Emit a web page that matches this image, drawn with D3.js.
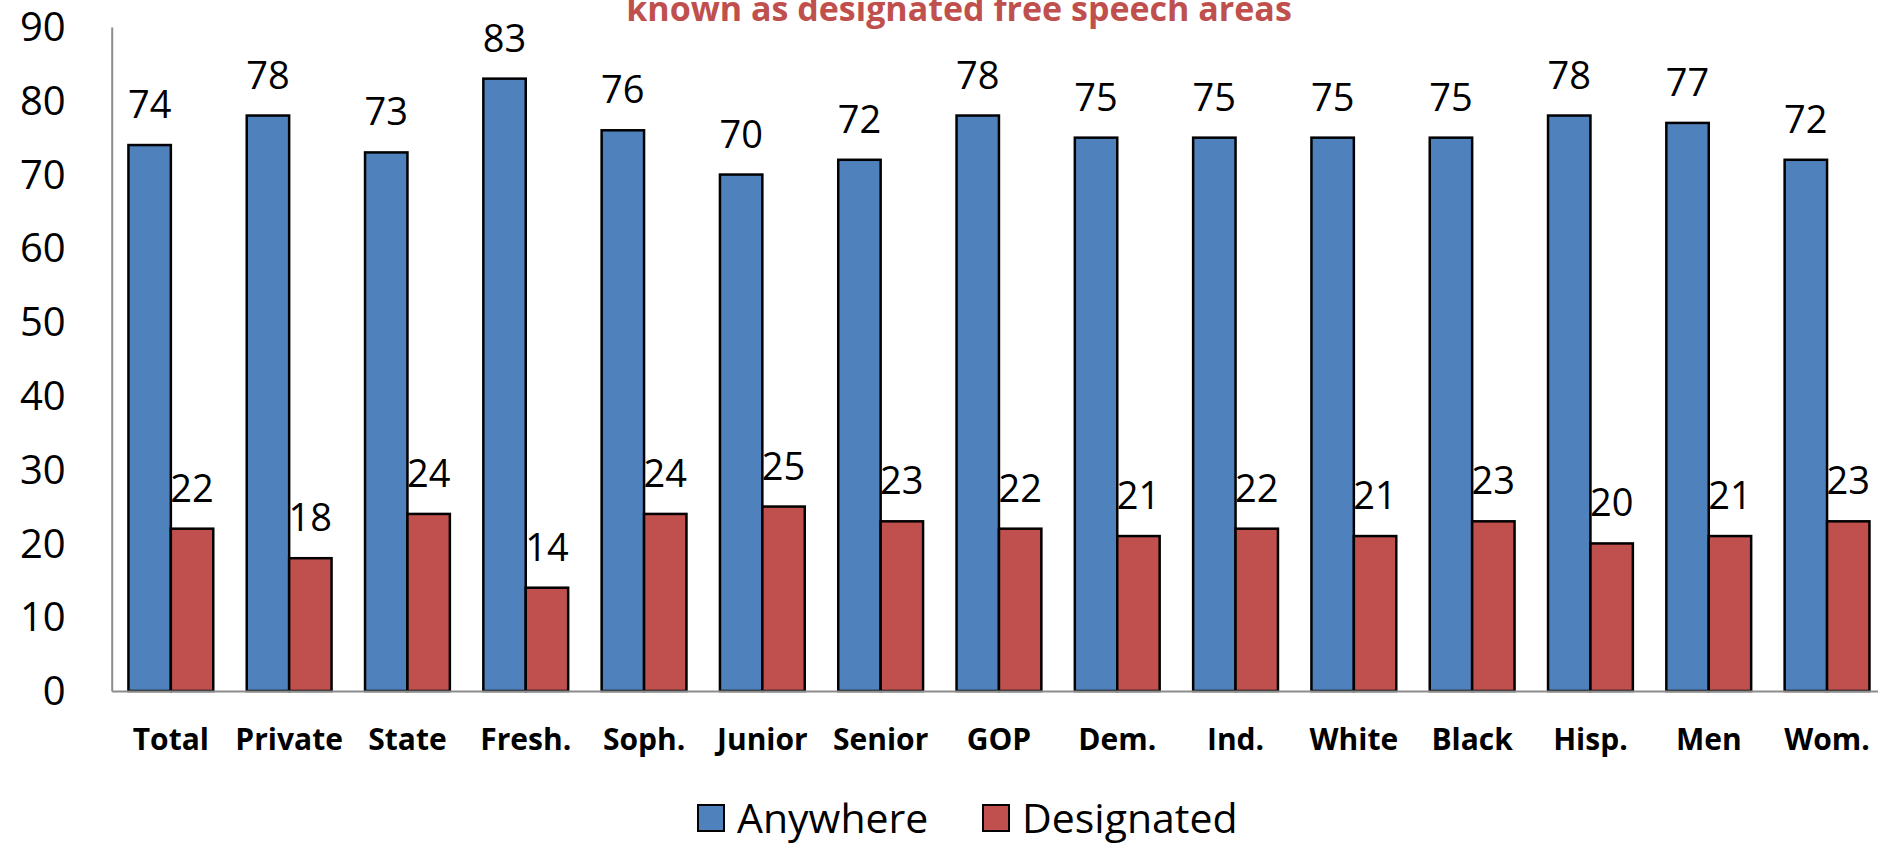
<!DOCTYPE html>
<html>
<head>
<meta charset="utf-8">
<script src="https://cdn.jsdelivr.net/npm/d3@7"></script>
<style>
  body { margin: 0; background: #fff; }
  svg { display: block; font-family: "Open Sans", "Noto Sans", sans-serif; }
</style>
</head>
<body>
<script>
'use strict';

// chart data
const categories = ["Total", "Private", "State", "Fresh.", "Soph.", "Junior", "Senior",
  "GOP", "Dem.", "Ind.", "White", "Black", "Hisp.", "Men", "Wom."];
const anywhere = [74, 78, 73, 83, 76, 70, 72, 78, 75, 75, 75, 75, 78, 77, 72];
const designated = [22, 18, 24, 14, 24, 25, 23, 22, 21, 22, 21, 23, 20, 21, 23];
const seriesNames = ["Anywhere", "Designated"];
const yTicks = [0, 10, 20, 30, 40, 50, 60, 70, 80, 90];
const titleText = "known as designated free speech areas";

const colors = { Anywhere: "#4F81BD", Designated: "#C0504D" };

const width = 1878, height = 844;
const left = 111.7, step = 118.3;

const svg = d3.select("body").append("svg")
  .attr("width", width)
  .attr("height", height);

// scales
const x0 = d3.scaleBand()
  .domain(categories)
  .range([left, left + step * categories.length])
  .paddingInner(0.283)
  .paddingOuter(0.1415);

const x1 = d3.scaleBand()
  .domain(seriesNames)
  .range([0, x0.bandwidth()]);

const y = d3.scaleLinear()
  .domain([0, 90])
  .range([691, 27]);

// build rows for the grouped bars
const rows = categories.map((c, i) => ({
  cat: c,
  values: [
    { key: "Anywhere", value: anywhere[i] },
    { key: "Designated", value: designated[i] }
  ]
}));

// y axis
svg.append("g")
  .attr("class", "y-axis")
  .attr("transform", `translate(${left},0)`)
  .call(d3.axisLeft(y).tickValues(yTicks).tickSize(0).tickSizeOuter(0).tickPadding(46))
  .call(g => g.select(".domain").attr("stroke", "#8c8c8c").attr("stroke-width", 2))
  .call(g => g.selectAll("text")
    .attr("fill", "#000")
    .attr("dy", "0.34em")
    .style("font-size", "40px")
    .style("font-family", "'Open Sans', sans-serif"));

// bars
const groups = svg.selectAll(".grp")
  .data(rows)
  .enter()
  .append("g")
  .attr("class", "grp")
  .attr("transform", d => `translate(${x0(d.cat)},0)`);

groups.selectAll("rect")
  .data(d => d.values)
  .enter()
  .append("rect")
  .attr("x", d => x1(d.key))
  .attr("y", d => y(d.value))
  .attr("width", x1.bandwidth())
  .attr("height", d => y(0) - y(d.value))
  .attr("fill", d => colors[d.key])
  .attr("stroke", "#000")
  .attr("stroke-width", 2.5);

// value labels
groups.selectAll(".val")
  .data(d => d.values)
  .enter()
  .append("text")
  .attr("class", "val")
  .attr("x", d => x1(d.key) + x1.bandwidth() / 2)
  .attr("y", d => y(d.value) - 27)
  .attr("text-anchor", "middle")
  .style("font-size", "38px")
  .text(d => d.value);

// x axis
svg.append("g")
  .attr("class", "x-axis")
  .attr("transform", `translate(0,${y(0)})`)
  .call(d3.axisBottom(x0).tickSize(0).tickSizeOuter(0).tickPadding(38))
  .call(g => g.select(".domain").attr("stroke", "#8c8c8c").attr("stroke-width", 2))
  .call(g => g.selectAll("text")
    .attr("fill", "#000")
    .style("font-size", "30px")
    .style("font-weight", "bold")
    .style("font-family", "'Open Sans', sans-serif"));

// title (only its second line falls inside the picture)
svg.append("text")
  .attr("x", 959)
  .attr("y", 21)
  .attr("text-anchor", "middle")
  .attr("fill", "#C0504D")
  .style("font-size", "34px")
  .style("font-weight", "bold")
  .text(titleText);

// legend
const legendX = [698, 983];
const legend = svg.selectAll(".legend")
  .data(seriesNames)
  .enter()
  .append("g")
  .attr("class", "legend")
  .attr("transform", (d, i) => `translate(${legendX[i]},805)`);

legend.append("rect")
  .attr("width", 26)
  .attr("height", 26)
  .attr("fill", d => colors[d])
  .attr("stroke", "#000")
  .attr("stroke-width", 2);

legend.append("text")
  .attr("x", 39)
  .attr("y", 28)
  .style("font-size", "41px")
  .text(d => d);
</script>
</body>
</html>
